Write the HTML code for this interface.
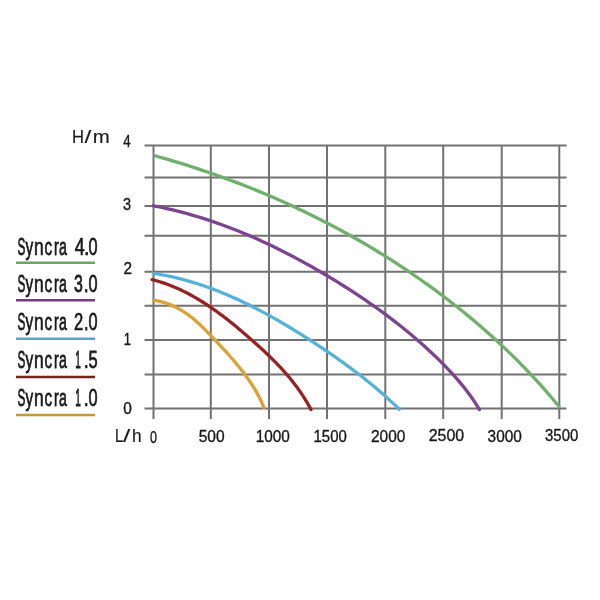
<!DOCTYPE html><html><head><meta charset="utf-8"><style>html,body{margin:0;padding:0;background:#fff;width:600px;height:600px;overflow:hidden}svg{display:block;will-change:transform}text{font-family:"Liberation Sans",sans-serif;fill:#1a1a1a;stroke:#1a1a1a;stroke-width:0.35px;vector-effect:non-scaling-stroke}text.t{stroke-width:0.15px}text.l{stroke:#1a1a1a;stroke-width:0.65px;vector-effect:non-scaling-stroke}</style></head><body>
<svg width="600" height="600" viewBox="0 0 600 600">
<rect width="600" height="600" fill="#fff"/>
<g stroke="#727272" stroke-width="2"><line x1="144.5" y1="145.5" x2="566.5" y2="145.5"/><line x1="144.5" y1="177.5" x2="566.5" y2="177.5"/><line x1="144.5" y1="206.0" x2="566.5" y2="206.0"/><line x1="144.5" y1="235.7" x2="566.5" y2="235.7"/><line x1="144.5" y1="271.8" x2="566.5" y2="271.8"/><line x1="144.5" y1="305.8" x2="566.5" y2="305.8"/><line x1="144.5" y1="340.1" x2="566.5" y2="340.1"/><line x1="144.5" y1="374.4" x2="566.5" y2="374.4"/><line x1="144.5" y1="408.4" x2="566.5" y2="408.4"/><line x1="153.5" y1="145" x2="153.5" y2="419"/><line x1="210.8" y1="145" x2="210.8" y2="419"/><line x1="269.0" y1="145" x2="269.0" y2="419"/><line x1="327.0" y1="145" x2="327.0" y2="419"/><line x1="385.3" y1="145" x2="385.3" y2="419"/><line x1="443.2" y1="145" x2="443.2" y2="419"/><line x1="501.7" y1="145" x2="501.7" y2="419"/><line x1="559.3" y1="145" x2="559.3" y2="419"/></g>
<path d="M155.13,155.88 L160.98,157.51 L166.82,159.19 L172.65,160.90 L178.48,162.65 L184.29,164.44 L190.10,166.27 L195.90,168.15 L201.68,170.06 L207.46,172.01 L213.22,174.00 L218.98,176.03 L224.72,178.10 L230.45,180.21 L236.16,182.36 L241.86,184.55 L247.55,186.78 L253.23,189.05 L258.88,191.36 L264.53,193.71 L270.16,196.10 L275.77,198.53 L281.37,201.00 L286.94,203.51 L292.51,206.06 L298.05,208.65 L303.58,211.28 L309.08,213.95 L314.57,216.66 L320.04,219.41 L325.49,222.19 L330.92,225.02 L336.33,227.89 L341.71,230.79 L347.08,233.73 L352.42,236.72 L357.74,239.74 L363.04,242.80 L368.31,245.90 L373.56,249.04 L378.79,252.22 L383.99,255.43 L389.16,258.68 L394.31,261.98 L399.44,265.31 L404.54,268.67 L409.61,272.08 L414.65,275.53 L419.66,279.01 L424.65,282.53 L429.61,286.08 L434.54,289.68 L439.44,293.31 L444.31,296.98 L449.15,300.69 L453.96,304.43 L458.74,308.22 L463.48,312.03 L468.20,315.89 L472.88,319.79 L477.53,323.72 L482.14,327.69 L486.72,331.71 L491.27,335.76 L495.78,339.85 L500.26,343.99 L504.70,348.17 L509.10,352.38 L513.47,356.64 L517.80,360.95 L522.10,365.30 L526.35,369.69 L530.57,374.12 L534.75,378.60 L538.89,383.13 L542.99,387.70 L547.05,392.32 L551.07,396.98 L555.05,401.70 L558.99,406.46" fill="none" stroke="#6fb06c" stroke-width="3.3" stroke-linecap="round"/>
<path d="M153.21,205.76 L158.14,206.72 L163.06,207.75 L167.95,208.83 L172.82,209.97 L177.68,211.16 L182.51,212.41 L187.32,213.71 L192.11,215.06 L196.89,216.47 L201.64,217.93 L206.37,219.44 L211.09,220.99 L215.79,222.60 L220.46,224.25 L225.12,225.95 L229.77,227.70 L234.39,229.49 L238.99,231.33 L243.58,233.21 L248.15,235.13 L252.70,237.09 L257.24,239.10 L261.76,241.14 L266.26,243.23 L270.75,245.35 L275.21,247.51 L279.67,249.71 L284.10,251.94 L288.53,254.21 L292.93,256.51 L297.32,258.84 L301.70,261.21 L306.05,263.61 L310.40,266.04 L314.73,268.50 L319.05,270.98 L323.35,273.50 L327.63,276.04 L331.91,278.61 L336.17,281.21 L340.41,283.84 L344.63,286.49 L348.84,289.17 L353.03,291.88 L357.20,294.62 L361.35,297.39 L365.48,300.19 L369.58,303.02 L373.66,305.88 L377.72,308.77 L381.76,311.69 L385.77,314.65 L389.75,317.64 L393.70,320.66 L397.63,323.72 L401.53,326.81 L405.39,329.93 L409.23,333.09 L413.03,336.28 L416.80,339.51 L420.54,342.78 L424.24,346.08 L427.91,349.42 L431.54,352.80 L435.13,356.21 L438.69,359.67 L442.20,363.16 L445.68,366.69 L449.11,370.27 L452.48,373.89 L455.80,377.57 L459.06,381.31 L462.23,385.11 L465.34,388.99 L468.35,392.94 L471.27,396.97 L474.09,401.09 L476.81,405.30 L479.41,409.61" fill="none" stroke="#7d4490" stroke-width="3.3" stroke-linecap="round"/>
<path d="M153.50,273.44 L157.08,273.99 L160.64,274.60 L164.19,275.25 L167.73,275.95 L171.26,276.69 L174.77,277.48 L178.26,278.32 L181.75,279.20 L185.22,280.13 L188.68,281.09 L192.13,282.10 L195.56,283.15 L198.98,284.24 L202.39,285.37 L205.78,286.54 L209.17,287.74 L212.54,288.98 L215.90,290.26 L219.24,291.57 L222.58,292.92 L225.90,294.29 L229.21,295.71 L232.51,297.15 L235.79,298.62 L239.07,300.12 L242.33,301.66 L245.58,303.22 L248.82,304.80 L252.05,306.42 L255.27,308.06 L258.47,309.72 L261.67,311.41 L264.85,313.12 L268.02,314.85 L271.19,316.60 L274.34,318.38 L277.48,320.17 L280.61,321.98 L283.72,323.81 L286.83,325.66 L289.93,327.52 L293.02,329.40 L296.09,331.30 L299.16,333.20 L302.22,335.12 L305.26,337.05 L308.30,339.00 L311.32,340.95 L314.34,342.91 L317.35,344.88 L320.34,346.87 L323.33,348.86 L326.30,350.87 L329.27,352.89 L332.22,354.93 L335.16,356.97 L338.09,359.03 L341.01,361.11 L343.91,363.20 L346.81,365.30 L349.69,367.42 L352.56,369.56 L355.41,371.71 L358.26,373.88 L361.09,376.07 L363.90,378.28 L366.71,380.50 L369.50,382.75 L372.27,385.02 L375.04,387.32 L377.79,389.63 L380.52,391.98 L383.24,394.35 L385.94,396.75 L388.63,399.19 L391.31,401.65 L393.97,404.14 L396.61,406.67 L399.24,409.24" fill="none" stroke="#55b2d8" stroke-width="3.3" stroke-linecap="round"/>
<path d="M152.13,279.57 L154.71,280.25 L157.26,280.97 L159.80,281.74 L162.32,282.56 L164.82,283.41 L167.30,284.31 L169.77,285.24 L172.22,286.22 L174.65,287.23 L177.07,288.28 L179.47,289.37 L181.85,290.49 L184.22,291.64 L186.57,292.83 L188.91,294.05 L191.23,295.31 L193.53,296.59 L195.83,297.91 L198.11,299.25 L200.37,300.62 L202.62,302.02 L204.86,303.44 L207.08,304.89 L209.29,306.36 L211.49,307.86 L213.67,309.37 L215.84,310.91 L218.00,312.47 L220.15,314.05 L222.29,315.65 L224.42,317.26 L226.53,318.89 L228.63,320.54 L230.73,322.20 L232.81,323.88 L234.88,325.56 L236.94,327.26 L238.99,328.98 L241.04,330.70 L243.07,332.43 L245.10,334.16 L247.11,335.91 L249.12,337.66 L251.12,339.42 L253.11,341.18 L255.10,342.95 L257.07,344.72 L259.03,346.50 L260.99,348.28 L262.93,350.08 L264.86,351.88 L266.78,353.70 L268.68,355.52 L270.57,357.36 L272.44,359.20 L274.30,361.07 L276.14,362.94 L277.96,364.83 L279.77,366.74 L281.56,368.66 L283.32,370.60 L285.07,372.56 L286.80,374.54 L288.50,376.54 L290.18,378.56 L291.84,380.60 L293.47,382.66 L295.08,384.75 L296.67,386.86 L298.23,389.00 L299.76,391.16 L301.26,393.35 L302.74,395.56 L304.18,397.81 L305.60,400.08 L306.98,402.38 L308.34,404.72 L309.66,407.08 L310.95,409.48" fill="none" stroke="#962222" stroke-width="3.3" stroke-linecap="round"/>
<path d="M153.69,300.33 L155.70,300.62 L157.69,300.98 L159.67,301.40 L161.64,301.88 L163.59,302.42 L165.52,303.01 L167.43,303.67 L169.33,304.37 L171.20,305.13 L173.05,305.93 L174.88,306.79 L176.68,307.69 L178.46,308.63 L180.21,309.62 L181.94,310.64 L183.64,311.71 L185.32,312.81 L186.97,313.94 L188.59,315.11 L190.19,316.31 L191.77,317.54 L193.32,318.80 L194.85,320.08 L196.36,321.39 L197.85,322.72 L199.32,324.07 L200.77,325.44 L202.20,326.82 L203.61,328.22 L205.02,329.63 L206.41,331.05 L207.80,332.48 L209.18,333.92 L210.56,335.36 L211.94,336.81 L213.32,338.26 L214.70,339.71 L216.08,341.17 L217.46,342.63 L218.84,344.09 L220.22,345.56 L221.60,347.03 L222.97,348.51 L224.33,350.00 L225.70,351.49 L227.05,352.98 L228.40,354.48 L229.75,355.99 L231.08,357.51 L232.41,359.03 L233.73,360.56 L235.03,362.10 L236.33,363.64 L237.62,365.20 L238.89,366.76 L240.15,368.33 L241.40,369.91 L242.64,371.50 L243.86,373.10 L245.06,374.71 L246.25,376.33 L247.42,377.96 L248.57,379.60 L249.71,381.25 L250.83,382.92 L251.92,384.60 L253.00,386.28 L254.05,387.98 L255.09,389.70 L256.09,391.43 L257.07,393.16 L258.03,394.92 L258.96,396.69 L259.86,398.47 L260.73,400.26 L261.57,402.07 L262.38,403.90 L263.15,405.74 L263.89,407.60" fill="none" stroke="#dba236" stroke-width="3.3" stroke-linecap="round"/>
<text class="t" transform="translate(71.88,143.0) scale(0.8999,1)" font-size="18.5">H</text><text class="t" transform="translate(84.55,143.0) scale(1.3230,1)" font-size="18.5">/</text><text class="t" transform="translate(92.74,143.0) scale(1.1032,1)" font-size="18.5">m</text>
<text class="t" transform="translate(114.88,442.3) scale(0.8030,1)" font-size="18.5">L</text><text class="t" transform="translate(123.05,442.3) scale(1.4203,1)" font-size="18.5">/</text><text class="t" transform="translate(132.05,442.3) scale(0.9353,1)" font-size="18.5">h</text>
<text transform="translate(123.29,146.6) scale(0.8058,1)" font-size="16.5">4</text>
<text transform="translate(123.05,210.2) scale(0.882,1)" font-size="16.5">3</text>
<text transform="translate(123.43,274.4) scale(0.9312,1)" font-size="16.5">2</text>
<text transform="translate(123.71,344.7) scale(0.7872,1)" font-size="16.5">1</text>
<text transform="translate(123.2,413.8) scale(0.9382,1)" font-size="16.5">0</text>
<text transform="translate(150.01,442.6) scale(0.7607,1)" font-size="16.5">0</text>
<text transform="translate(198.68,442.0) scale(0.9419,1)" font-size="16.5">500</text>
<text transform="translate(255.63,442.0) scale(0.9309,1)" font-size="16.5">1000</text>
<text transform="translate(313.56,442.0) scale(0.9051,1)" font-size="16.5">1500</text>
<text transform="translate(371.02,442.0) scale(0.9367,1)" font-size="16.5">2000</text>
<text transform="translate(428.7,441.3) scale(0.965,1)" font-size="16.5">2500</text>
<text transform="translate(487.61,441.8) scale(0.9342,1)" font-size="16.5">3000</text>
<text transform="translate(545.03,440.8) scale(0.9059,1)" font-size="16.5">3500</text>
<text class="l" transform="translate(17.41,254.6) scale(0.5070,1)" font-size="23.3">S</text><text class="l" transform="translate(25.41,254.6) scale(0.6581,1)" font-size="23.3">y</text><text class="l" transform="translate(34.09,254.6) scale(0.7476,1)" font-size="23.3">n</text><text class="l" transform="translate(44.45,254.6) scale(0.6520,1)" font-size="23.3">c</text><text class="l" transform="translate(53.91,254.6) scale(0.6094,1)" font-size="23.3">r</text><text class="l" transform="translate(59.00,254.6) scale(0.6099,1)" font-size="23.3">a</text><text class="l" transform="translate(74.84,254.6) scale(0.7665,1)" font-size="23.3">4</text><text class="l" transform="translate(83.93,254.6) scale(0.8564,1)" font-size="23.3">.</text><text class="l" transform="translate(88.46,254.6) scale(0.7003,1)" font-size="23.3">0</text>
<line x1="16" y1="262.8" x2="95" y2="262.8" stroke="#6aa868" stroke-width="2.6"/>
<text class="l" transform="translate(17.41,292.4) scale(0.5070,1)" font-size="23.3">S</text><text class="l" transform="translate(25.41,292.4) scale(0.6581,1)" font-size="23.3">y</text><text class="l" transform="translate(34.09,292.4) scale(0.7476,1)" font-size="23.3">n</text><text class="l" transform="translate(44.45,292.4) scale(0.6520,1)" font-size="23.3">c</text><text class="l" transform="translate(53.91,292.4) scale(0.6094,1)" font-size="23.3">r</text><text class="l" transform="translate(59.00,292.4) scale(0.6099,1)" font-size="23.3">a</text><text class="l" transform="translate(73.99,292.4) scale(0.6834,1)" font-size="23.3">3</text><text class="l" transform="translate(84.11,292.4) scale(0.6987,1)" font-size="23.3">.</text><text class="l" transform="translate(88.46,292.4) scale(0.7003,1)" font-size="23.3">0</text>
<line x1="16" y1="300.3" x2="95" y2="300.3" stroke="#6e3c80" stroke-width="2.6"/>
<text class="l" transform="translate(17.41,329.7) scale(0.5070,1)" font-size="23.3">S</text><text class="l" transform="translate(25.41,329.7) scale(0.6581,1)" font-size="23.3">y</text><text class="l" transform="translate(34.09,329.7) scale(0.7476,1)" font-size="23.3">n</text><text class="l" transform="translate(44.45,329.7) scale(0.6520,1)" font-size="23.3">c</text><text class="l" transform="translate(53.91,329.7) scale(0.6094,1)" font-size="23.3">r</text><text class="l" transform="translate(59.00,329.7) scale(0.6099,1)" font-size="23.3">a</text><text class="l" transform="translate(74.02,329.7) scale(0.7113,1)" font-size="23.3">2</text><text class="l" transform="translate(84.11,329.7) scale(0.6987,1)" font-size="23.3">.</text><text class="l" transform="translate(88.46,329.7) scale(0.7003,1)" font-size="23.3">0</text>
<line x1="16" y1="338.7" x2="95" y2="338.7" stroke="#58a6c8" stroke-width="2.6"/>
<text class="l" transform="translate(17.41,368.4) scale(0.5070,1)" font-size="23.3">S</text><text class="l" transform="translate(25.41,368.4) scale(0.6581,1)" font-size="23.3">y</text><text class="l" transform="translate(34.09,368.4) scale(0.7476,1)" font-size="23.3">n</text><text class="l" transform="translate(44.45,368.4) scale(0.6520,1)" font-size="23.3">c</text><text class="l" transform="translate(53.91,368.4) scale(0.6094,1)" font-size="23.3">r</text><text class="l" transform="translate(59.00,368.4) scale(0.6099,1)" font-size="23.3">a</text><text class="l" transform="translate(75.34,368.4) scale(0.4280,1)" font-size="23.3">1</text><text class="l" transform="translate(83.82,368.4) scale(0.7663,1)" font-size="23.3">.</text><text class="l" transform="translate(88.44,368.4) scale(0.7061,1)" font-size="23.3">5</text>
<line x1="16" y1="377.0" x2="95" y2="377.0" stroke="#801e1c" stroke-width="2.6"/>
<text class="l" transform="translate(17.41,406.2) scale(0.5070,1)" font-size="23.3">S</text><text class="l" transform="translate(25.41,406.2) scale(0.6581,1)" font-size="23.3">y</text><text class="l" transform="translate(34.09,406.2) scale(0.7476,1)" font-size="23.3">n</text><text class="l" transform="translate(44.45,406.2) scale(0.6520,1)" font-size="23.3">c</text><text class="l" transform="translate(53.91,406.2) scale(0.6094,1)" font-size="23.3">r</text><text class="l" transform="translate(59.00,406.2) scale(0.6099,1)" font-size="23.3">a</text><text class="l" transform="translate(75.34,406.2) scale(0.4280,1)" font-size="23.3">1</text><text class="l" transform="translate(83.82,406.2) scale(0.7663,1)" font-size="23.3">.</text><text class="l" transform="translate(88.46,406.2) scale(0.7003,1)" font-size="23.3">0</text>
<line x1="16" y1="415.0" x2="95" y2="415.0" stroke="#c39540" stroke-width="2.6"/>
</svg></body></html>
